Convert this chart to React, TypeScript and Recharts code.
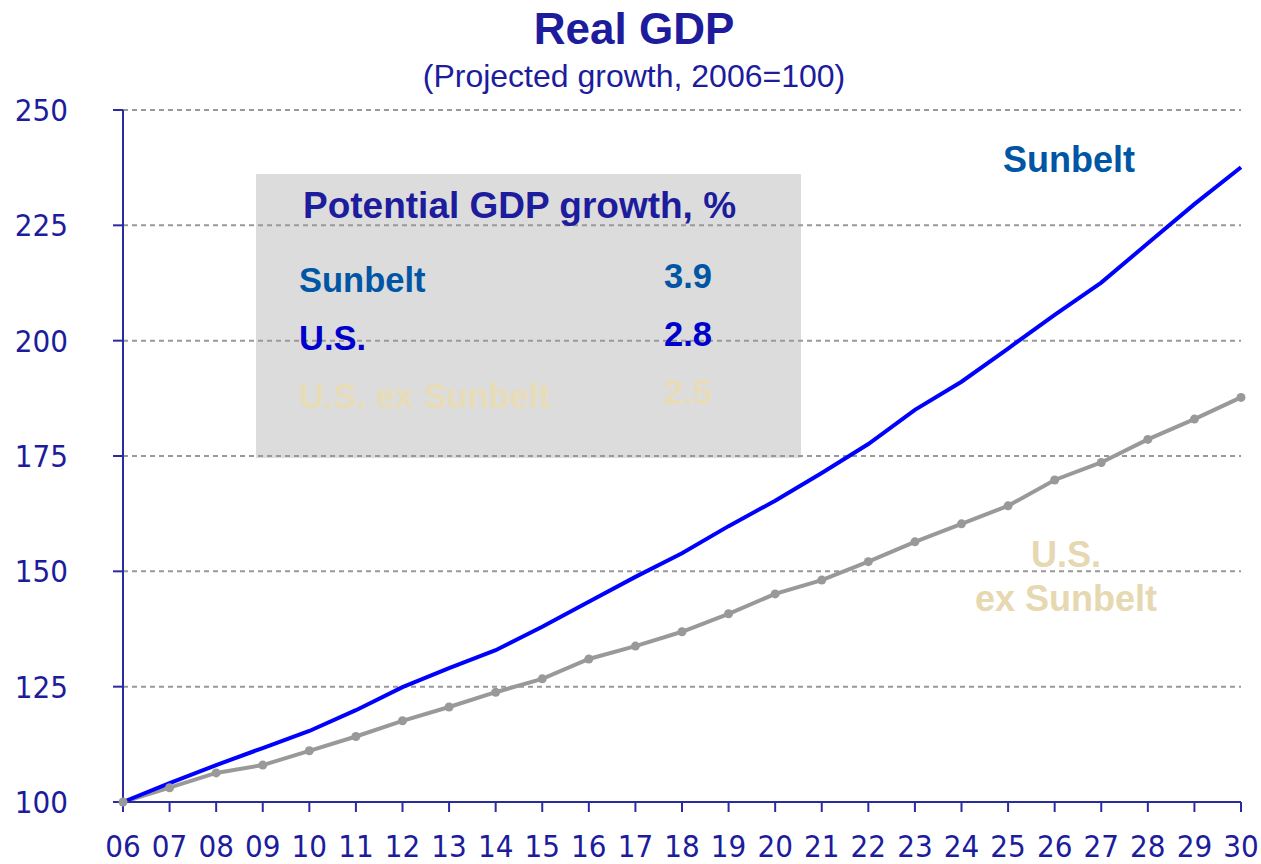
import React from "react";
import {
  LineChart,
  Line,
  XAxis,
  YAxis,
  CartesianGrid,
} from "recharts";

const YEARS = [
  "06", "07", "08", "09", "10", "11", "12", "13", "14", "15", "16", "17", "18",
  "19", "20", "21", "22", "23", "24", "25", "26", "27", "28", "29", "30",
];
const SUNBELT = [
  100, 104.1, 108, 111.7, 115.4, 119.9, 124.9, 129, 132.9, 138, 143.4, 148.8,
  153.9, 159.8, 165.3, 171.3, 177.6, 185, 191.1, 198.3, 205.6, 212.6, 221.1,
  229.6, 237.6,
];
const US_EX_SUNBELT = [
  100, 103.1, 106.3, 108, 111.1, 114.2, 117.6, 120.6, 123.8, 126.7, 131, 133.8,
  136.9, 140.8, 145.1, 148.1, 152.1, 156.4, 160.3, 164.2, 169.8, 173.6, 178.6,
  183, 187.7,
];
const Y_TICKS = [100, 125, 150, 175, 200, 225, 250];

const GROWTH_ROWS = [
  { name: "Sunbelt", value: "3.9", color: "#0055A4" },
  { name: "U.S.", value: "2.8", color: "#0000CC" },
  { name: "U.S. ex Sunbelt", value: "2.5", color: "#E8DCB8" },
];

const data = YEARS.map((y, i) => ({
  year: y,
  sunbelt: SUNBELT[i],
  exSunbelt: US_EX_SUNBELT[i],
}));

const NAVY = "#1C1C9C";
const AXIS_COLOR = "#2B2BA0";
const TICK_FONT = "'DejaVu Sans Condensed', 'Liberation Sans', sans-serif";
const LABEL_FONT = "'Liberation Sans', Arial, sans-serif";
const TICK = { fill: NAVY, fontSize: 31, fontFamily: TICK_FONT };

export default function App() {
  return (
    <div style={{ position: "absolute", left: 0, top: 0, width: 1261, height: 864, background: "#fff" }}>
      {/* shaded box behind the grid */}
      <svg width={1261} height={864} style={{ position: "absolute", left: 0, top: 0 }}>
        <rect x={256} y={174} width={545} height={284} fill="#DCDCDC" />
      </svg>

      <div style={{ position: "absolute", left: 0, top: 0 }}>
        <LineChart
          width={1261}
          height={864}
          data={data}
          margin={{ top: 110, right: 20, bottom: 0, left: 0 }}
        >
          <CartesianGrid
            vertical={false}
            stroke="#999999"
            strokeWidth={2}
            strokeDasharray="5 4"
          />
          <XAxis
            dataKey="year"
            height={62}
            tick={TICK}
            tickSize={10}
            tickMargin={23}
            interval={0}
            stroke={AXIS_COLOR}
            strokeWidth={2}
            tickLine={{ stroke: AXIS_COLOR, strokeWidth: 2 }}
          />
          <YAxis
            width={123}
            domain={[100, 250]}
            ticks={Y_TICKS}
            tick={TICK}
            tickSize={10}
            tickMargin={45}
            stroke={AXIS_COLOR}
            strokeWidth={2}
            tickLine={{ stroke: AXIS_COLOR, strokeWidth: 2 }}
          />
          <Line
            type="linear"
            dataKey="exSunbelt"
            stroke="#999999"
            strokeWidth={4}
            dot={{ r: 4.5, fill: "#999999", stroke: "none" }}
            isAnimationActive={false}
          />
          <Line
            type="linear"
            dataKey="sunbelt"
            stroke="#0000FF"
            strokeWidth={4}
            dot={false}
            isAnimationActive={false}
          />
        </LineChart>
      </div>

      {/* titles and annotations */}
      <svg
        width={1261}
        height={864}
        style={{ position: "absolute", left: 0, top: 0, pointerEvents: "none" }}
      >
        <text x={634} y={44} textAnchor="middle" fill={NAVY} fontFamily={LABEL_FONT} fontWeight="bold" fontSize={44}>
          Real GDP
        </text>
        <text x={634} y={87} textAnchor="middle" fill={NAVY} fontFamily={LABEL_FONT} fontSize={32}>
          (Projected growth, 2006=100)
        </text>

        <text x={303} y={218} fill={NAVY} fontFamily={LABEL_FONT} fontWeight="bold" fontSize={37}>
          Potential GDP growth, %
        </text>
        {GROWTH_ROWS.map((r, i) => (
          <g key={r.name}>
            <text x={299} y={292 + i * 58} fill={r.color} fontFamily={LABEL_FONT} fontWeight="bold" fontSize={34.5}>
              {r.name}
            </text>
            <text x={664} y={288 + i * 58} fill={r.color} fontFamily={LABEL_FONT} fontWeight="bold" fontSize={34.5}>
              {r.value}
            </text>
          </g>
        ))}

        <text x={1069} y={172} textAnchor="middle" fill="#0055A4" fontFamily={LABEL_FONT} fontWeight="bold" fontSize={36}>
          Sunbelt
        </text>
        <text x={1066} y={567} textAnchor="middle" fill="#E6D8B0" fontFamily={LABEL_FONT} fontWeight="bold" fontSize={36}>
          U.S.
        </text>
        <text x={1066} y={611} textAnchor="middle" fill="#E6D8B0" fontFamily={LABEL_FONT} fontWeight="bold" fontSize={36}>
          ex Sunbelt
        </text>
      </svg>
    </div>
  );
}
